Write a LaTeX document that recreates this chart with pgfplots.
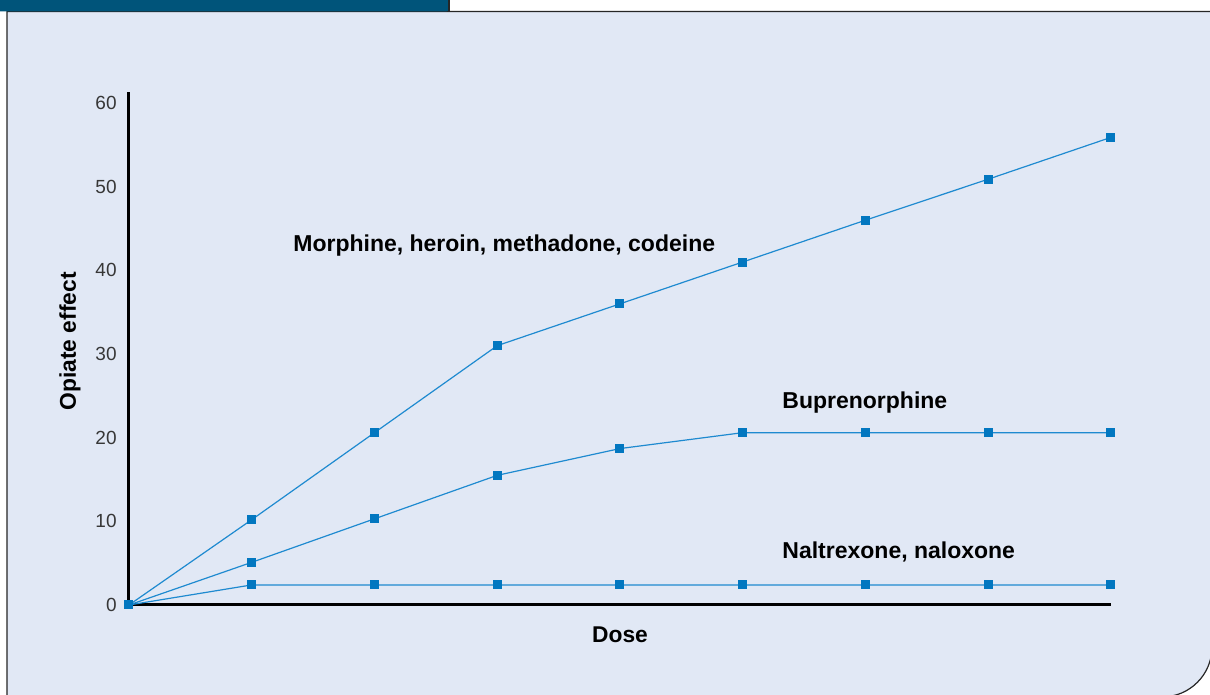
\documentclass[border=0pt]{standalone}
\usepackage{pgfplots}
\pgfplotsset{compat=1.18}
\usepackage{fontspec}
\setmainfont{Liberation Sans}
\definecolor{panelbg}{RGB}{225,232,245}
\definecolor{tabblue}{RGB}{0,84,122}
\definecolor{markblue}{RGB}{2,119,192}
\definecolor{lineblue}{RGB}{30,138,208}
\definecolor{ticktext}{RGB}{55,55,55}
\pgfplotsset{opiate/.style={color=lineblue, line width=0.6pt, mark=square*, mark size=2pt,
    mark options={fill=markblue, draw=markblue, line width=0pt}}}
\begin{document}
\begin{tikzpicture}[x=1pt,y=1pt]
\useasboundingbox (0,0) rectangle (605,347.5);
\begin{scope}
\clip (0,0) rectangle (605,347.5);
\fill[white] (0,0) rectangle (605,347.5);
\filldraw[fill=panelbg, draw=black!85, line width=0.6pt]
  (3.5,-10) -- (3.5,341.75) -- (610,341.75) -- (606,341.75) -- (606,24) arc (0:-90:25) -- (3.5,-1) -- cycle;
\fill[tabblue, rounded corners=1.5pt] (-5,341.75) -- (-5,352) -- (224.5,352) -- (224.5,341.75) -- cycle;
\draw[black!85, line width=0.6pt] (224.5,341.75) -- (224.5,347.5);
\end{scope}
\begin{axis}[
  at={(64.5pt,45pt)}, anchor=south west,
  scale only axis, width=491pt, height=256.4pt,
  xmin=0, xmax=8, ymin=0, ymax=61.3,
  axis lines*=left,
  axis line style={line width=1.5pt, black, -},
  clip=false,
  xtick=\empty,
  ytick={0,10,20,30,40,50,60},
  major tick length=0pt,
  yticklabel style={inner sep=0pt, xshift=-6pt, font=\fontsize{9.5}{11}\selectfont, text=ticktext},
  /pgf/number format/assume math mode=true,
  every axis x label/.style={at={(axis description cs:0.5,-0.0585)}, anchor=center},
  every axis y label/.style={at={(axis description cs:-0.0601,0.514)}, anchor=center, rotate=90},
  xlabel={\fontsize{11.4}{13}\selectfont\bfseries Dose},
  ylabel={\fontsize{11.4}{13}\selectfont\bfseries Opiate effect},
]
\addplot[opiate] coordinates {(0,0) (1,10.2) (2,20.6) (3,31.0) (4,36.0) (5,41.0) (6,46.0) (7,50.9) (8,55.9)};
\addplot[opiate] coordinates {(0,0) (1,5.1) (2,10.3) (3,15.5) (4,18.7) (5,20.6) (6,20.6) (7,20.6) (8,20.6)};
\addplot[opiate] coordinates {(0,0) (1,2.4) (2,2.4) (3,2.4) (4,2.4) (5,2.4) (6,2.4) (7,2.4) (8,2.4)};
\node[anchor=base west, inner sep=0pt, font=\fontsize{11.5}{13}\selectfont\bfseries] at (axis cs:1.336,42.2) {Morphine, heroin, methadone, codeine};
\node[anchor=base west, inner sep=0pt, font=\fontsize{11.5}{13}\selectfont\bfseries] at (axis cs:5.32,23.5) {Buprenorphine};
\node[anchor=base west, inner sep=0pt, font=\fontsize{11.5}{13}\selectfont\bfseries] at (axis cs:5.32,5.5) {Naltrexone, naloxone};
\end{axis}
\end{tikzpicture}
\end{document}
